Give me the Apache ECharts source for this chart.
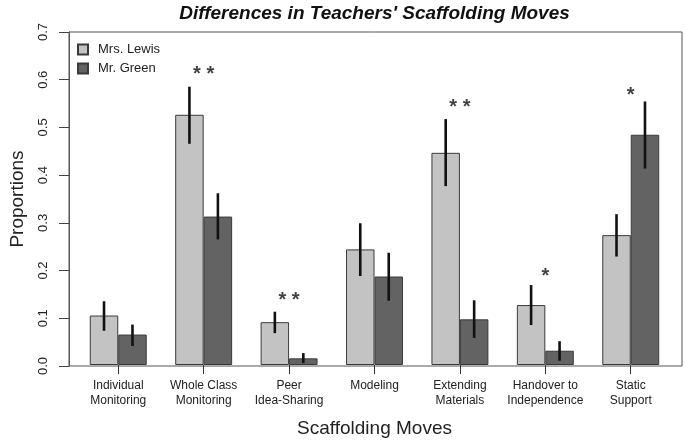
<!DOCTYPE html>
<html>
<head>
<meta charset="utf-8">
<script src="https://cdn.jsdelivr.net/npm/echarts@6/dist/echarts.min.js"></script>
<style>
html,body{margin:0;padding:0;background:#fff;}
#chart{width:685px;height:443px;}
</style>
</head>
<body>
<div id="chart"></div>
<script>
// ---- data ----
var categories = ['Individual\nMonitoring', 'Whole Class\nMonitoring', 'Peer\nIdea-Sharing', 'Modeling', 'Extending\nMaterials', 'Handover to\nIndependence', 'Static\nSupport'];
var seriesNames = ['Mrs. Lewis', 'Mr. Green'];
var lewis     = [0.104, 0.526, 0.090, 0.243, 0.446, 0.126, 0.273];
var lewisLow  = [0.072, 0.465, 0.067, 0.187, 0.376, 0.084, 0.228];
var lewisHigh = [0.134, 0.585, 0.112, 0.298, 0.517, 0.168, 0.317];
var green     = [0.064, 0.312, 0.014, 0.186, 0.096, 0.030, 0.484];
var greenLow  = [0.040, 0.264, 0.004, 0.135, 0.057, 0.009, 0.413];
var greenHigh = [0.085, 0.361, 0.025, 0.236, 0.136, 0.050, 0.554];
var stars     = ['', '* *', '* *', '', '* *', '*', '*'];
var starY     = [null, 0.620, 0.144, null, 0.549, 0.195, 0.574];
var yTicks    = [0.0, 0.1, 0.2, 0.3, 0.4, 0.5, 0.6, 0.7];

// ---- layout (R barplot geometry: xlim 0.2..21.8 units, groups 3 units wide) ----
var frameL = 67, frameR = 682, frameT = 32, frameB = 366;
var ppu = (frameR - frameL) / 21.6;
var dataL = frameL + 0.3 * ppu;
var dataW = 21 * ppu;

var LIGHT = '#c3c3c3', DARK = '#636363', FONT = 'Liberation Sans, Arial, Helvetica, sans-serif';

function errData(lo, hi) { return lo.map(function (v, i) { return [i, v, hi[i]]; }); }
function errRender(side) {
  return function (params, api) {
    var c = api.value(0);
    var band = api.size([1, 0])[0];
    var p1 = api.coord([c, api.value(1)]);
    var p2 = api.coord([c, api.value(2)]);
    var x = p1[0] + side * band / 6;
    return { type: 'line', shape: { x1: x, y1: p1[1], x2: x, y2: p2[1] },
             style: { stroke: '#111', lineWidth: 2.6 } };
  };
}
var starData = [];
stars.forEach(function (s, i) { if (s) starData.push({ value: [i, starY[i]], txt: s }); });

var chart = echarts.init(document.getElementById('chart'), null, { renderer: 'canvas' });
chart.setOption({
  animation: false,
  backgroundColor: '#fff',
  textStyle: { fontFamily: FONT },
  title: {
    text: "Differences in Teachers' Scaffolding Moves",
    left: (frameL + frameR) / 2, top: 4, padding: 0,
    textAlign: 'center',
    textStyle: { fontFamily: FONT, fontSize: 19, fontWeight: 'bold', fontStyle: 'italic', color: '#111' }
  },
  legend: {
    orient: 'vertical', left: 77, top: 43, padding: 0,
    itemWidth: 10, itemHeight: 10, itemGap: 6, icon: 'rect',
    data: seriesNames,
    textStyle: { fontFamily: FONT, fontSize: 13, color: '#222', padding: [0, 0, 0, 5] }
  },
  grid: [
    { left: frameL, top: frameT, width: frameR - frameL, height: frameB - frameT,
      show: true, borderColor: '#555', borderWidth: 1, backgroundColor: 'transparent' },
    { left: dataL, top: frameT, width: dataW, height: frameB - frameT }
  ],
  xAxis: [
    { gridIndex: 0, type: 'value', min: 0, max: 1, show: false },
    { gridIndex: 1, type: 'category', data: categories,
      axisLine: { show: false },
      axisTick: { show: true, alignWithLabel: true, length: 9, lineStyle: { color: '#333' } },
      axisLabel: { fontFamily: FONT, fontSize: 12, lineHeight: 15, color: '#222', margin: 13, interval: 0 },
      name: 'Scaffolding Moves', nameLocation: 'middle', nameGap: 54,
      nameTextStyle: { fontFamily: FONT, fontSize: 19, color: '#222' }
    }
  ],
  yAxis: [
    { gridIndex: 0, type: 'value', min: 0, max: 0.7, interval: 0.1,
      axisLine: { show: true, lineStyle: { color: '#555' } },
      axisTick: { show: true, length: 10, inside: false, lineStyle: { color: '#444' } },
      splitLine: { show: false },
      axisLabel: { rotate: 90, margin: 19, fontFamily: FONT, fontSize: 13, color: '#222',
                   formatter: function (v) { return v.toFixed(1); } },
      name: 'Proportions', nameLocation: 'middle', nameGap: 42, nameRotate: 90,
      nameTextStyle: { fontFamily: FONT, fontSize: 19, color: '#222' }
    },
    { gridIndex: 1, type: 'value', min: 0, max: 0.7, show: false, splitLine: { show: false } }
  ],
  series: [
    { name: seriesNames[0], type: 'bar', xAxisIndex: 1, yAxisIndex: 1, data: lewis,
      barWidth: '33.333%', barGap: '0%',
      itemStyle: { color: LIGHT, borderColor: '#3a3a3a', borderWidth: 1 } },
    { name: seriesNames[1], type: 'bar', xAxisIndex: 1, yAxisIndex: 1, data: green,
      barWidth: '33.333%', barGap: '0%',
      itemStyle: { color: DARK, borderColor: '#3a3a3a', borderWidth: 1 } },
    { type: 'custom', xAxisIndex: 1, yAxisIndex: 1, data: errData(lewisLow, lewisHigh),
      renderItem: errRender(-1), z: 5 },
    { type: 'custom', xAxisIndex: 1, yAxisIndex: 1, data: errData(greenLow, greenHigh),
      renderItem: errRender(1), z: 5 },
    { type: 'scatter', xAxisIndex: 1, yAxisIndex: 1, data: starData, symbolSize: 0, z: 6,
      label: { show: true, position: 'inside', offset: [0, 4], fontFamily: FONT, fontSize: 20,
               fontWeight: 'bold', color: '#111',
               formatter: function (p) { return p.data.txt; } } }
  ]
});
</script>
</body>
</html>
